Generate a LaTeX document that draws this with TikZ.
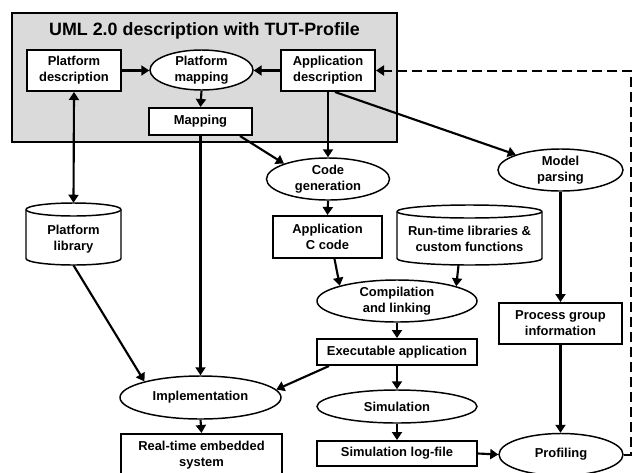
\documentclass[tikz,border=0pt]{standalone}
\usepackage{fontspec}
\setmainfont{Liberation Sans}
\usetikzlibrary{shapes.geometric,arrows.meta,calc}
\definecolor{umlgray}{RGB}{218,218,218}
\newcommand\pxu{0.75pt}
\newcommand\cylpath[5]{%
  \pgfmathsetmacro\cxl{#1-#3}\pgfmathsetmacro\cxr{#1+#3}%
  \pgfmathsetmacro\cyt{#2-#4+#5}\pgfmathsetmacro\cyb{#2+#4-#5}%
  \draw[cylline] (\cxl,\cyt) -- (\cxl,\cyb) arc[start angle=180,end angle=0,x radius=#3,y radius=#5] -- (\cxr,\cyt) arc[start angle=0,end angle=-180,x radius=#3,y radius=#5] -- cycle;
  \draw[cylline] (\cxl,\cyt) arc[start angle=180,end angle=0,x radius=#3,y radius=#5];
}
\begin{document}
\begin{tikzpicture}[x=0.75pt,y=-0.75pt,
  txt/.style={font=\bfseries\fontsize{9.7}{12}\selectfont, align=center},
  box/.style={txt, draw, line width=1.5pt, fill=white, inner sep=0pt},
  oval/.style={txt, ellipse, draw, line width=1.1pt, fill=white, inner xsep=0pt, inner ysep=-3pt},
  cylline/.style={draw, fill=white, line width=1.1pt},
  cylbody/.style={inner sep=0pt},
  tip/.style={},
  arr/.style={line width=1.6pt, -{Triangle[length=6pt,width=7.5pt]}},
  dbl/.style={line width=1.6pt, {Triangle[length=6pt,width=7.5pt]}-{Triangle[length=6pt,width=7.5pt]}},
  fb/.style={line width=1.5pt, dash pattern=on 7.5pt off 3.75pt, -{Triangle[length=6pt,width=7.5pt]}}
]
\useasboundingbox (0,0) rectangle (632,472);
% UML frame
\node[draw, fill=umlgray, line width=1.8pt, inner sep=0pt, minimum width=385*\pxu, minimum height=129*\pxu] (uml) at (204.5,77.5) {};
\node[font=\bfseries\fontsize{13.4}{16}\selectfont] (title) at (204.5,31) {UML 2.0 description with TUT-Profile};
\node[box, minimum width=94*\pxu, minimum height=41*\pxu] (pdesc) at (74,70.5) {Platform\\description};
\node[oval, minimum width=103*\pxu, minimum height=40*\pxu] (pmap) at (201.5,70) {Platform\\mapping};
\node[box, minimum width=94*\pxu, minimum height=41*\pxu] (adesc) at (328,70.5) {Application\\description};
\node[box, minimum width=103*\pxu, minimum height=27*\pxu] (mapping) at (200.5,121.5) {Mapping};
% cylinders
\cylpath{73.5}{234}{47.5}{31}{6.5}
\node[cylbody, minimum width=95*\pxu, minimum height=62*\pxu] (plib) at (73.5,234) {};
\node[txt] (plibtxt) at (73.5,239) {Platform\\library};
\cylpath{469.5}{235}{72.5}{30}{6.5}
\node[cylbody, minimum width=145*\pxu, minimum height=60*\pxu] (runtime) at (469.5,235) {};
\node[txt] (runtimetxt) at (469.5,239) {Run-time libraries \&\\custom functions};
% other nodes
\node[oval, minimum width=123*\pxu, minimum height=42*\pxu] (codegen) at (328,179) {Code\\generation};
\node[oval, minimum width=125*\pxu, minimum height=42*\pxu] (mparse) at (560.5,170) {Model\\parsing};
\node[box, minimum width=109*\pxu, minimum height=42*\pxu] (appc) at (327.5,237) {Application\\C code};
\node[oval, minimum width=160*\pxu, minimum height=42*\pxu] (compil) at (397,301) {Compilation\\and linking};
\node[box, minimum width=123*\pxu, minimum height=41*\pxu] (pginfo) at (560.5,323.5) {Process group\\information};
\node[box, minimum width=160*\pxu, minimum height=26*\pxu] (exec) at (397,352) {Executable application};
\node[oval, minimum width=161*\pxu, minimum height=43*\pxu] (impl) at (200.5,397.5) {Implementation};
\node[oval, minimum width=160*\pxu, minimum height=33*\pxu] (sim) at (397,406.5) {Simulation};
\node[box, minimum width=160*\pxu, minimum height=25*\pxu] (simlog) at (397,453.5) {Simulation log-file};
\node[oval, minimum width=124*\pxu, minimum height=42*\pxu] (prof) at (561,454.5) {Profiling};
\node[box, minimum width=161*\pxu, minimum height=42*\pxu] (rtes) at (201.5,455) {Real-time embedded\\system};
% connectors
\draw[arr] (pdesc.east) -- (pdesc.east -| pmap.west);
\draw[arr] (adesc.west) -- (adesc.west -| pmap.east);
\draw[arr] (pmap.south) -- (mapping.north);
\draw[dbl] (pdesc.south) -- (plib.north);
\draw[arr] (mapping.south) -- (mapping.south |- impl.north);
\draw[arr] ($(mapping.south east)+(-13,0)$) -- (codegen.north west);
\draw[arr] (adesc.south) -- (codegen.north);
\draw[arr] ($(adesc.south)+(7,0)$) -- (mparse.north west);
\draw[arr] (codegen.south) -- (appc.north);
\draw[arr] ($(appc.south)+(7,0)$) -- (compil.165);
\draw[arr] ($(runtime.south)+(-11,0)$) -- (compil.14);
\draw[arr] (compil.south) -- (exec.north);
\draw[arr] ($(exec.south west)+(13,0)$) -- (impl.6);
\draw[arr] (exec.south) -- (sim.north);
\draw[arr] (sim.south) -- (simlog.north);
\draw[arr] (simlog.east) -- (prof.west);
\draw[arr] (mparse.south) -- (pginfo.north);
\draw[arr] (pginfo.south) -- (pginfo.south |- prof.north);
\draw[arr] (plib.south) -- (impl.164);
\draw[arr] (impl.south) -- (rtes.north);
\coordinate (fbbot) at (631,454.5);
\coordinate (fbtop) at (631,70.5);
\draw[fb] (prof.east) -- (fbbot) -- (fbtop) -- (adesc.east);
\end{tikzpicture}
\end{document}
